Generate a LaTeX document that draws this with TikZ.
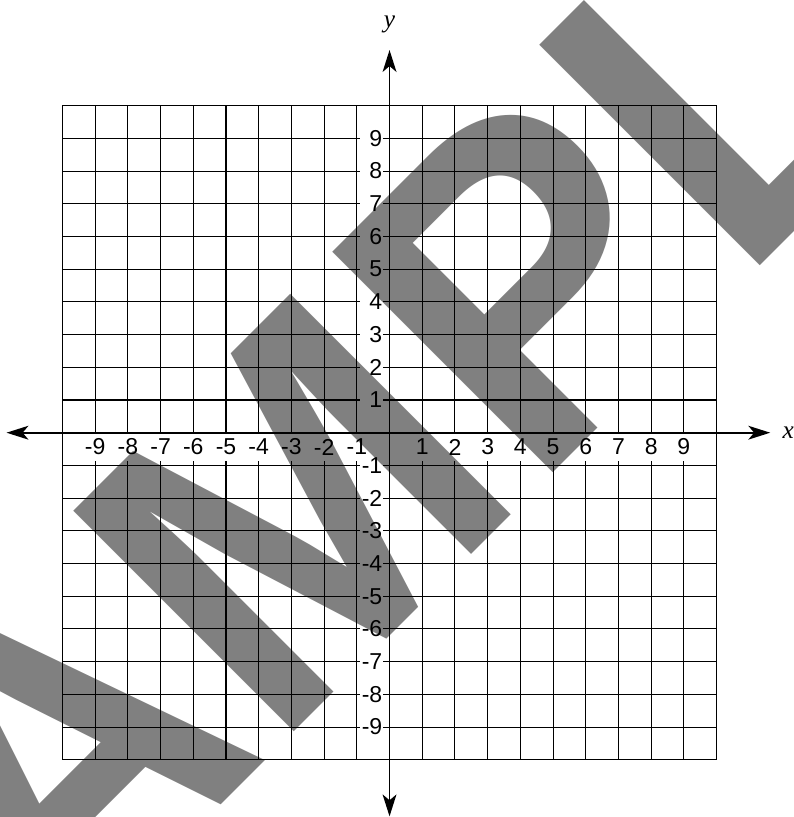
\documentclass[tikz,border=0pt]{standalone}
\usepackage{fontspec}
\setmainfont{Liberation Serif}
\newfontfamily\numfont{Liberation Sans}
\usetikzlibrary{arrows.meta, positioning}
\tikzstyle{gridline} = [line width=0.9pt, black]
\tikzstyle{axisline} = [line width=1.6pt, {Stealth[length=19pt, width=12pt, inset=5pt]}-{Stealth[length=19pt, width=12pt, inset=5pt]}]
\tikzstyle{xnum} = [fill=white, inner sep=1pt, minimum height=25pt, font=\numfont\fontsize{20}{20}\selectfont]
\tikzstyle{ynum} = [fill=white, anchor=east, inner xsep=1pt, inner ysep=2pt, text width=18.4pt, align=right, font=\numfont\fontsize{20}{20}\selectfont]
\tikzstyle{varname} = [inner sep=0pt, font=\itshape\fontsize{22}{22}\selectfont]
\tikzstyle{stamp} = [rotate=45, yscale=1.033, anchor=base, inner sep=0pt, text=black!50, font=\numfont\bfseries\fontsize{381.8}{382}\selectfont]

\begin{document}
\begin{tikzpicture}
			\useasboundingbox (-11.91,-11.75) rectangle (12.34,13.23);
			\clip (-11.91,-11.75) rectangle (12.34,13.23);

			\draw[gridline] (-10,-10) grid (10,10);

			% numbers on both axes
			\foreach \i in {-9,...,9} {
				\ifnum\i=0 \else
					\node[xnum] (xn\i) at (\i,-0.437) {\i};
					\node[ynum] (yn\i) at (-0.18,\i) {\i};
				\fi
			}

			% axes
			\coordinate (xl) at (-11.71,0);
			\coordinate (xr) at (11.64,0);
			\coordinate (yb) at (0,-11.73);
			\coordinate (yt) at (0,11.70);
			\draw[axisline] (xl) -- (xr);
			\draw[axisline] (yb) -- (yt);

			\node[varname, right=0.37cm of xr] (xname) {x};
			\node[varname, above=0.5cm of yt] (yname) {y};

			% watermark on top
			\begin{scope}[blend mode=multiply]
				\node[stamp] (stamp) at (3.05,-3.18) {SAMPLE};
			\end{scope}
		\end{tikzpicture}
\end{document}
